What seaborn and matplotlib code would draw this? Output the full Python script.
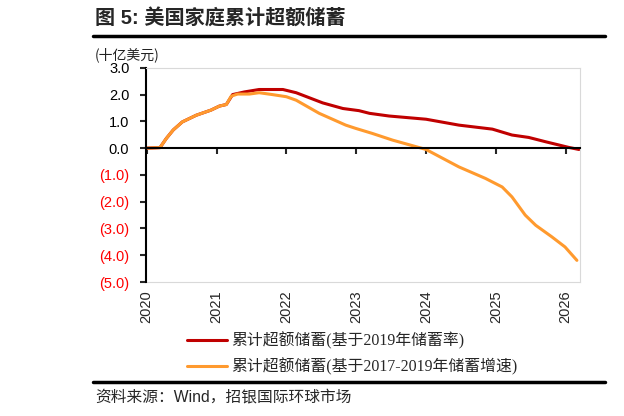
import matplotlib
matplotlib.use('Agg')
import matplotlib.pyplot as plt
from matplotlib.lines import Line2D
from matplotlib.ticker import FixedLocator
import seaborn as sns
import pandas as pd

# values (billion USD, decimal years)
red_label = '累计超额储蓄(基于2019年储蓄率)'
orange_label = '累计超额储蓄(基于2017-2019年储蓄增速)'

red_x = [2020.0, 2020.19, 2020.28, 2020.38, 2020.51, 2020.71, 2020.92, 2021.04, 2021.14,
         2021.23, 2021.40, 2021.61, 2021.95, 2022.14, 2022.52, 2022.81, 2023.04, 2023.19,
         2023.47, 2024.0, 2024.47, 2024.95, 2025.23, 2025.47, 2025.71, 2026.04, 2026.19]
red_y = [0.0, 0.02, 0.36, 0.68, 0.98, 1.23, 1.42, 1.57, 1.63,
         2.0, 2.10, 2.19, 2.19, 2.07, 1.69, 1.48, 1.40, 1.30,
         1.20, 1.08, 0.86, 0.71, 0.49, 0.40, 0.24, 0.03, -0.05]

orange_x = [2020.0, 2020.19, 2020.28, 2020.38, 2020.51, 2020.71, 2020.92, 2021.04, 2021.14,
            2021.21, 2021.30, 2021.47, 2021.61, 2021.80, 2022.0, 2022.14, 2022.47, 2022.85,
            2022.99, 2023.23, 2023.52, 2023.85, 2024.0, 2024.47, 2024.85, 2025.09, 2025.23,
            2025.42, 2025.57, 2025.80, 2025.99, 2026.16]
orange_y = [0.0, 0.02, 0.36, 0.68, 0.98, 1.23, 1.42, 1.57, 1.63,
            1.94, 2.02, 2.02, 2.07, 2.0, 1.92, 1.79, 1.30, 0.86,
            0.74, 0.55, 0.30, 0.06, -0.05, -0.70, -1.13, -1.45, -1.82,
            -2.50, -2.88, -3.31, -3.69, -4.19]

year_ticks = [2020, 2021, 2022, 2023, 2024, 2025, 2026]
y_ticks = [3.0, 2.0, 1.0, 0.0, -1.0, -2.0, -3.0, -4.0, -5.0]

df = pd.concat([
    pd.DataFrame({'year': red_x, 'value': red_y, 'series': red_label}),
    pd.DataFrame({'year': orange_x, 'value': orange_y, 'series': orange_label}),
])

sns.set_theme(style='white')
plt.rcParams['font.family'] = ['Liberation Sans', 'Noto Sans CJK SC', 'DejaVu Sans']

fig = plt.figure(figsize=(6.24, 4.16), dpi=100)
ax = fig.add_axes([0.234, 0.322, 0.695, 0.515])

palette = {red_label: '#C00000', orange_label: '#FF9A2E'}
sns.lineplot(data=df, x='year', y='value', hue='series', palette=palette,
             linewidth=2.2, sort=False, ax=ax, legend=True)
handles, labels = ax.get_legend_handles_labels()
ax.get_legend().remove()

ax.set_xlim(2019.99, 2026.2)
ax.set_ylim(-5.0, 3.0)
ax.set_xlabel('')
ax.set_ylabel('')

# y axis
ax.yaxis.set_major_locator(FixedLocator(y_ticks))
ax.set_yticklabels(['%.1f' % v if v >= 0 else '(%.1f)' % abs(v) for v in y_ticks])
for t, v in zip(ax.get_yticklabels(), y_ticks):
    t.set_color('black' if v >= 0 else '#FF0000')
    t.set_fontsize(10.5)
ax.tick_params(axis='y', left=True, direction='out', length=4, width=1.5, pad=8)

# zero-line axis with ticks, labels below the plot
ax.spines['bottom'].set_position(('data', 0))
ax.spines['bottom'].set_color('black')
ax.spines['bottom'].set_linewidth(1.5)
ax.spines['left'].set_color('black')
ax.spines['left'].set_linewidth(1.5)
for s in ['top', 'right']:
    ax.spines[s].set_color('#d9d9d9')
    ax.spines[s].set_linewidth(0.8)
ax.xaxis.set_major_locator(FixedLocator(year_ticks))
ax.tick_params(axis='x', bottom=True, direction='out', length=4, width=1.5, labelbottom=False)

sec = ax.secondary_xaxis(0)
sec.xaxis.set_major_locator(FixedLocator(year_ticks))
sec.set_xticklabels([str(y) for y in year_ticks], rotation=90, fontsize=10.5)
sec.tick_params(axis='x', length=0, pad=6)
sec.spines['bottom'].set_color('#d9d9d9')
sec.spines['bottom'].set_linewidth(0.8)

# titles and notes
fig.text(0.152, 0.957, '图 5: 美国家庭累计超额储蓄', fontsize=14.5, fontweight='bold',
         ha='left', va='center')
fig.add_artist(Line2D([0.149, 0.97], [0.913, 0.913], color='black', linewidth=2.5))
fig.text(0.152, 0.868, '(十亿美元)', fontsize=10, ha='left', va='center',
         family=['Noto Sans CJK SC'], color='#222222')
fig.legend(handles, labels, loc='center left', bbox_to_anchor=(0.287, 0.149),
           frameon=False, handlelength=2.5, handletextpad=0.3, labelspacing=0.55,
           borderpad=0, prop={'family': ['Liberation Serif', 'Noto Sans CJK SC'], 'size': 11.4})
fig.add_artist(Line2D([0.149, 0.97], [0.082, 0.082], color='black', linewidth=2.5))
fig.text(0.152, 0.045, '资料来源：Wind，招银国际环球市场', fontsize=11.3, ha='left', va='center')

fig.savefig('out.png', dpi=100)
